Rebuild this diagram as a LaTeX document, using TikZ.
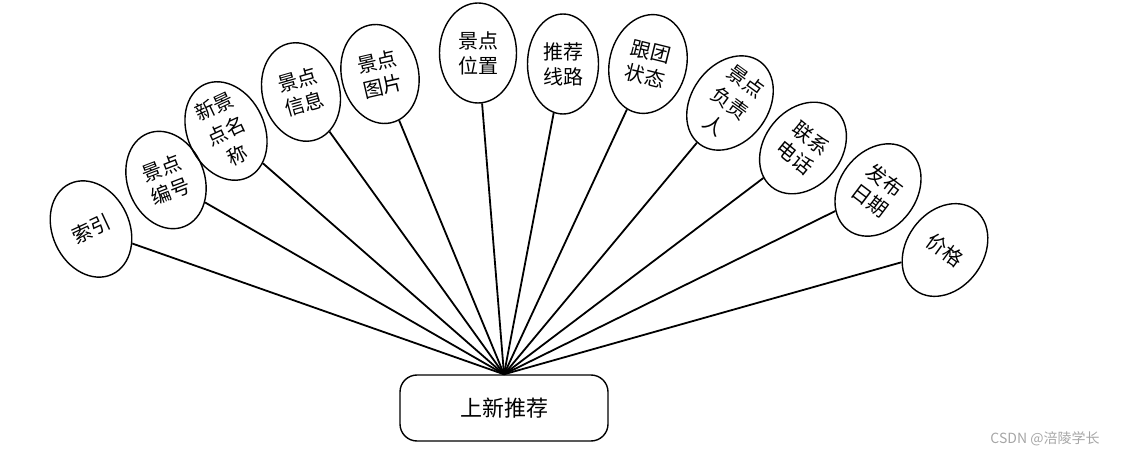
\documentclass[tikz,border=0pt]{standalone}
\usepackage{fontspec}
\setmainfont{Noto Sans CJK SC}
\usetikzlibrary{shapes.geometric}
\begin{document}
\begin{tikzpicture}[x=1pt,y=-1pt,
  attr/.style={ellipse, draw, line width=1.4pt, inner sep=0pt,
    minimum width=77pt, minimum height=100pt, align=center,
    font=\fontsize{20}{25}\selectfont},
  attrthree/.style={attr, font=\fontsize{20}{27}\selectfont},
  link/.style={line width=1.8pt},
  mainbox/.style={draw, rounded corners=17pt, line width=1.4pt,
    minimum width=208pt, minimum height=66pt, inner sep=0pt,
    font=\fontsize{22}{26}\selectfont}]
\path[use as bounding box] (0,0) rectangle (1125,457);
\node[mainbox] (main) at (504,408) {上新推荐};
\node[attr, rotate=25]       (a1)  at (91,229)  {索引};
\node[attr, rotate=21]       (a2)  at (166,180) {景点\\编号};
\node[attrthree, rotate=25]  (a3)  at (226,131) {新景\\点名\\称};
\node[attr, rotate=16]       (a4)  at (301,92)  {景点\\信息};
\node[attr, rotate=13]       (a5)  at (380,74)  {景点\\图片};
\node[attr]                  (a6)  at (478,53)  {景点\\位置};
\node[attr, minimum width=71pt] (a7)  at (563,64)  {推荐\\线路};
\node[attr, rotate=-14]      (a8)  at (648,64)  {跟团\\状态};
\node[attrthree, rotate=-36] (a9)  at (730,103) {景点\\负责\\人};
\node[attr, rotate=-39]      (a10) at (803,148) {联系\\电话};
\node[attr, rotate=-37]      (a11) at (878,190) {发布\\日期};
\node[attr, rotate=-36]      (a12) at (945,250) {价格};
\foreach \i in {1,...,12} \draw[link] (a\i) -- (main.north);
\node[text=black!35, font=\fontsize{14}{16}\selectfont] (wm) at (1045,439) {CSDN @涪陵学长};
\end{tikzpicture}
\end{document}
